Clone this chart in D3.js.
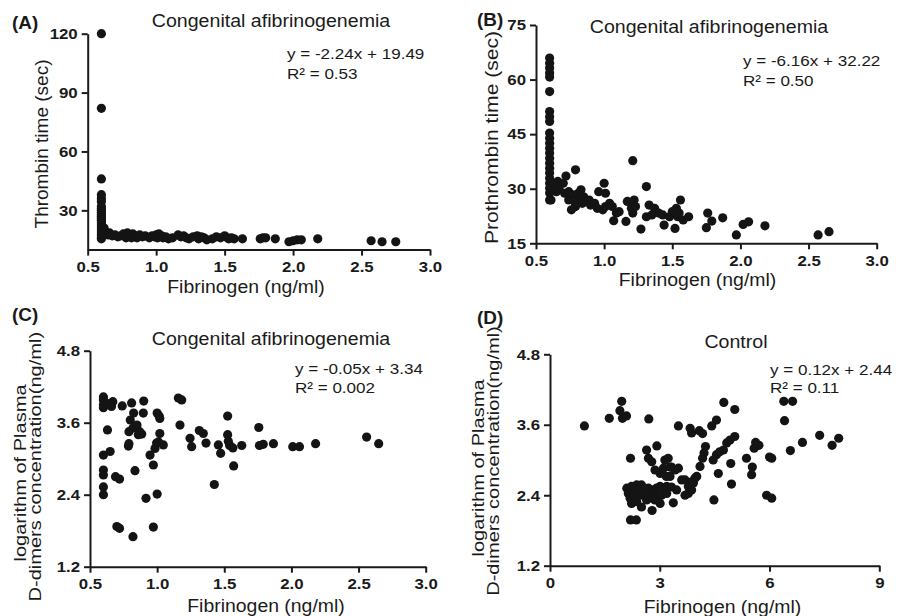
<!DOCTYPE html>
<html>
<head>
<meta charset="utf-8">
<script src="https://cdn.jsdelivr.net/npm/d3@7"></script>
<style>
  body { margin: 0; background: #fff; }
  svg { display: block; font-family: "Liberation Sans", Arial, sans-serif; }
  .axis .domain, .axis .tick line { stroke: #1a1a1a; stroke-width: 2px; }
  .axis .tick text { font-size: 15px; font-weight: bold; fill: #1a1a1a; font-family: "Liberation Sans", Arial, sans-serif; }
</style>
</head>
<body>
<div id="chart"></div>
<script>
// (A) thrombin time vs fibrinogen, patients
var ttPoints = [
  [0.6,120],[0.6,82],[0.6,46],[0.6,38],[0.6,36],[0.6,34.5],[0.6,32],[0.6,31],[0.6,30],[0.6,29],
  [0.6,28],[0.6,27],[0.6,26],[0.6,25],[0.6,24],[0.6,23],[0.6,22],[0.6,21],[0.6,20],[0.6,19],
  [0.6,18],[0.6,17],[0.6,16],[0.6,15.5],
  [0.62,21],[0.63,19],[0.64,18],[0.65,17.5],[0.66,18.5],[0.68,17],[0.7,17.5],[0.72,16.5],
  [0.74,17],[0.76,18],[0.77,17],[0.78,16],[0.79,18.5],[0.8,17.5],[0.82,16],[0.83,18],
  [0.85,17],[0.86,16],[0.88,17.5],[0.9,16.5],[0.92,17],[0.95,16],[0.97,17],[0.99,16.5],
  [1.0,17.5],[1.01,16],[1.02,18],[1.04,17],[1.05,16],[1.07,16.5],[1.09,15.5],[1.12,16],
  [1.16,17.5],[1.18,16.5],[1.2,17],[1.22,16],[1.24,15.5],[1.27,16.5],[1.3,17],[1.31,15.5],
  [1.33,16.5],[1.35,16],[1.37,15],[1.41,15.5],[1.44,16.5],[1.47,16],[1.5,17],[1.52,16],
  [1.53,15.5],[1.55,16],[1.57,15.5],[1.63,15.5],[1.76,15.5],[1.78,16],[1.8,16],[1.87,15.5],
  [1.97,14],[2.0,14.5],[2.03,15],[2.06,15],[2.18,15.5],[2.57,14.5],[2.65,14],[2.75,14]
];

// (B) prothrombin time vs fibrinogen, patients
var ptPoints = [
  [0.6,65.9],[0.6,64.5],[0.6,63.2],[0.6,61.8],[0.6,60.7],[0.6,56.7],[0.6,51.2],[0.6,49.8],
  [0.6,48.5],[0.6,45.3],[0.6,43.9],[0.6,42.5],[0.6,41.1],[0.6,39.8],[0.6,38.4],[0.6,37.0],
  [0.6,35.6],[0.6,34.3],[0.6,32.9],[0.6,31.5],[0.6,30.1],[0.6,28.8],[0.6,26.9],[0.61,26.9],
  [0.63,31.1],[0.66,32.0],[0.7,31.5],[0.72,33.5],[0.79,35.2],
  [0.62,29.7],[0.65,29.2],[0.67,29.9],[0.71,28.75],[0.74,29.2],[0.77,28.3],[0.81,28.75],
  [0.83,29.7],[0.82,27.4],[0.85,27.8],[0.87,26.5],[0.89,26.9],[0.9,25.5],[0.84,26.0],
  [0.79,25.1],[0.76,24.2],[0.79,26.0],[0.74,26.9],[0.93,26.0],[0.95,24.6],[0.99,24.2],
  [1.01,25.1],[1.04,26.0],[1.06,25.1],[1.0,31.5],[0.96,29.2],[1.01,28.75],
  [1.09,23.3],[1.07,21.2],[1.11,23.7],[1.16,21.0],[1.17,26.5],[1.21,23.3],[1.22,26.9],
  [1.2,24.6],[1.23,25.1],[1.21,37.7],[1.27,18.9],[1.31,30.6],[1.33,25.5],[1.35,22.8],
  [1.37,24.6],[1.31,22.3],[1.4,23.3],[1.43,22.8],[1.44,20.0],[1.48,22.3],[1.5,23.7],
  [1.53,24.6],[1.52,19.1],[1.54,22.3],[1.55,23.3],[1.56,26.9],[1.58,21.4],[1.62,22.3],
  [1.76,23.3],[1.75,19.3],[1.79,21.1],[1.87,22.0],[1.97,17.3],[2.02,20.2],[2.06,20.9],
  [2.18,19.8],[2.57,17.3],[2.65,18.2]
];

// (C) log plasma D-dimers vs fibrinogen, patients
var ddPatientPoints = [
  [0.6,4.03],[0.6,3.98],[0.6,3.9],[0.6,3.85],[0.6,3.06],[0.6,2.81],[0.6,2.73],[0.6,2.53],[0.6,2.4],
  [0.63,3.48],[0.65,3.12],[0.67,3.95],[0.66,3.87],[0.645,3.92],[0.74,3.88],[0.81,3.93],[0.9,3.96],
  [0.69,2.70],[0.72,2.66],[0.7,1.87],[0.72,1.84],[0.82,1.70],[0.835,2.80],
  [0.8,3.645],[0.79,3.45],[0.786,3.21],[0.79,3.25],[0.825,3.76],[0.85,3.56],[0.82,3.51],
  [0.87,3.45],[0.86,3.40],[0.885,3.41],[0.897,3.76],[0.947,3.06],[0.917,2.34],[0.972,2.895],
  [0.972,1.86],[1.0,3.76],[1.015,3.71],[1.02,3.67],[1.02,3.42],[0.996,3.26],[0.984,3.17],
  [1.01,3.28],[1.046,3.23],[1.0,2.41],[1.158,4.01],[1.183,3.98],[1.17,3.56],
  [1.245,3.34],[1.257,3.20],[1.314,3.47],[1.344,3.42],[1.364,3.26],[1.426,2.57],[1.456,3.23],
  [1.473,3.09],[1.525,3.71],[1.525,3.40],[1.53,3.29],[1.54,3.22],[1.564,3.18],[1.57,2.88],
  [1.63,3.22],[1.757,3.52],[1.762,3.22],[1.79,3.24],[1.866,3.25],[2.01,3.20],[2.06,3.20],
  [2.18,3.25],[2.56,3.36],[2.65,3.25]
];

// (D) log plasma D-dimers vs fibrinogen, controls
var ddControlPoints = [
  [0.94,3.58],[1.62,3.71],[1.96,4.0],[1.91,3.84],[1.98,3.71],[2.09,3.75],[2.70,3.70],[2.20,3.03],
  [2.64,3.17],[2.69,3.03],[2.92,3.24],[3.14,3.0],[3.23,3.03],[3.32,2.88],[3.18,2.72],[3.51,3.58],
  [3.83,3.54],[3.87,3.46],[4.08,3.5],[4.17,3.45],[4.42,3.58],[4.55,3.68],[4.75,3.98],[5.05,3.86],
  [4.94,2.94],[4.96,2.59],[4.48,2.32],[5.37,3.03],[5.53,2.88],[5.51,2.75],[5.58,3.2],[5.62,3.3],
  [5.71,3.25],[6.0,3.05],[6.06,3.03],[5.92,2.4],[6.06,2.35],[6.39,4.0],[6.63,4.0],[6.41,3.67],
  [6.57,3.16],[6.9,3.3],[7.37,3.42],[7.71,3.25],[7.89,3.37],[2.2,1.98],[2.36,1.98],[2.79,2.14],
  [4.25,3.23],[4.21,3.12],[4.17,3.03],[4.10,2.89],[4.01,2.72],[3.92,2.61],[3.87,2.49],[3.78,2.43],
  [3.69,2.40],[3.96,2.69],[4.46,3.0],[4.55,3.09],[4.64,3.14],[4.74,3.17],[4.60,2.77],[4.83,3.29],
  [4.92,3.34],[5.05,3.40],
  [2.10,2.52],[2.23,2.55],[2.37,2.575],[2.50,2.575],[2.14,2.43],[2.28,2.46],[2.41,2.49],[2.55,2.49],
  [2.69,2.52],[2.19,2.35],[2.32,2.38],[2.46,2.40],[2.60,2.38],[2.73,2.43],[2.82,2.49],[2.91,2.52],
  [3.01,2.55],[3.10,2.52],[3.19,2.55],[3.32,2.54],[2.23,2.26],[2.37,2.29],[2.50,2.20],[2.64,2.32],
  [2.78,2.35],[2.91,2.38],[3.05,2.40],[3.19,2.43],[3.37,2.27],[3.01,2.26],[2.87,2.32],[3.60,2.66],
  [3.69,2.66],[3.78,2.55],[3.87,2.63],[3.01,2.77],[2.87,2.83],[2.78,2.97],[3.10,2.86],[3.28,2.88],
  [3.42,2.83],[3.51,2.86],[3.46,2.49],[3.28,2.72]
];

// tick values
var fibTicksPatients = [0.5, 1.0, 1.5, 2.0, 2.5, 3.0];
var fibTicksControls = [0, 3, 6, 9];
var ttTicks = [30, 60, 90, 120];
var ptTicks = [15, 30, 45, 60, 75];
var ddTicks = [1.2, 2.4, 3.6, 4.8];

var width = 904, height = 616;
var tickStretch = 1.12;
var svg = d3.select("#chart").append("svg")
    .attr("width", width)
    .attr("height", height);

var panels = [
  {letter: "(A)", letterPos: [12, 29], points: ttPoints,
   xDomain: [0.5, 3], yDomain: [10, 120], xTicks: fibTicksPatients, yTicks: ttTicks,
   xFmt: d3.format(".1f"), yFmt: d3.format("d"),
   left: 87.7, right: 430, top: 33.7, bottom: 249.6,
   title: "Congenital afibrinogenemia", titlePos: [271, 26.5],
   eq: "y = -2.24x + 19.49", r2: "R\u00b2 = 0.53", eqPos: [287, 59], r2Y: 79,
   xLabelPos: [246, 293],
   yLabel: ["Thrombin time (sec)"], yLabelX: [48], yLabelY: [144], yLabelSize: 19, yLabelStretch: 1},
  {letter: "(B)", letterPos: [477, 26], points: ptPoints,
   xDomain: [0.5, 3], yDomain: [15, 75], xTicks: fibTicksPatients, yTicks: ptTicks,
   xFmt: d3.format(".1f"), yFmt: d3.format("d"),
   left: 536, right: 876.7, top: 25, bottom: 243.3,
   title: "Congenital afibrinogenemia", titlePos: [709, 33],
   eq: "y = -6.16x + 32.22", r2: "R\u00b2 = 0.50", eqPos: [743, 66], r2Y: 86,
   xLabelPos: [697.5, 286],
   yLabel: ["Prothrombin time (sec)"], yLabelX: [498], yLabelY: [137.5], yLabelSize: 19, yLabelStretch: 1.11},
  {letter: "(C)", letterPos: [12, 321], points: ddPatientPoints,
   xDomain: [0.5, 3], yDomain: [1.2, 4.8], xTicks: fibTicksPatients, yTicks: ddTicks,
   xFmt: d3.format(".1f"), yFmt: d3.format(".1f"),
   left: 90, right: 425.7, top: 350.7, bottom: 566.7,
   title: "Congenital afibrinogenemia", titlePos: [271, 345],
   eq: "y = -0.05x + 3.34", r2: "R\u00b2 = 0.002", eqPos: [295, 374], r2Y: 393,
   xLabelPos: [266, 612],
   yLabel: ["logarithm of Plasma", "D-dimers concentration(ng/ml)"],
   yLabelX: [25.5, 41], yLabelY: [473, 466.7], yLabelSize: 17, yLabelStretch: 1.18},
  {letter: "(D)", letterPos: [477, 324], points: ddControlPoints,
   xDomain: [0, 9], yDomain: [1.2, 4.8], xTicks: fibTicksControls, yTicks: ddTicks,
   xFmt: d3.format("d"), yFmt: d3.format(".1f"),
   left: 550, right: 879.3, top: 354.3, bottom: 565.7,
   title: "Control", titlePos: [736, 348],
   eq: "y = 0.12x + 2.44", r2: "R\u00b2 = 0.11", eqPos: [770, 375], r2Y: 393,
   xLabelPos: [722.5, 613],
   yLabel: ["logarithm of Plasma", "D-dimers concentration(ng/ml)"],
   yLabelX: [484, 499], yLabelY: [468, 461], yLabelSize: 17, yLabelStretch: 1.18}
];

// text with a horizontal stretch along its own direction
function addText(g, x, y, str, size, stretch, anchor, angle, weight) {
  return g.append("text")
    .attr("transform", "translate(" + x + "," + y + ") rotate(" + (angle || 0) + ") scale(" + stretch + ",1)")
    .attr("text-anchor", anchor || "start")
    .attr("font-size", size)
    .attr("font-weight", weight || "normal")
    .attr("fill", "#1a1a1a")
    .text(str);
}

function drawPanel(p) {
  var x = d3.scaleLinear().domain(p.xDomain).range([p.left, p.right]);
  var y = d3.scaleLinear().domain(p.yDomain).range([p.bottom, p.top]);
  var g = svg.append("g");

  var xAxis = g.append("g")
    .attr("class", "axis")
    .attr("transform", "translate(0," + p.bottom + ")")
    .call(d3.axisBottom(x).tickValues(p.xTicks).tickFormat(p.xFmt)
      .tickSize(6).tickSizeOuter(0).tickPadding(6));
  xAxis.selectAll(".tick text").attr("transform", "scale(" + tickStretch + ",1)");

  var yAxis = g.append("g")
    .attr("class", "axis")
    .attr("transform", "translate(" + p.left + ",0)")
    .call(d3.axisLeft(y).tickValues(p.yTicks).tickFormat(p.yFmt)
      .tickSize(6).tickSizeOuter(0).tickPadding(4));
  yAxis.selectAll(".tick text")
    .attr("x", -10 / tickStretch)
    .attr("transform", "scale(" + tickStretch + ",1)");

  g.append("g").selectAll("circle")
    .data(p.points)
    .enter()
    .append("circle")
    .attr("cx", function(d) { return x(d[0]); })
    .attr("cy", function(d) { return y(d[1]); })
    .attr("r", 4.6)
    .attr("fill", "#141414");

  addText(g, p.letterPos[0], p.letterPos[1], p.letter, 18, 1.05, "start", 0, "bold");
  addText(g, p.titlePos[0], p.titlePos[1], p.title, 17.5, 1.12, "middle");
  addText(g, p.eqPos[0], p.eqPos[1], p.eq, 15.5, 1.1, "start");
  addText(g, p.eqPos[0], p.r2Y, p.r2, 15.5, 1.1, "start");
  addText(g, p.xLabelPos[0], p.xLabelPos[1], "Fibrinogen (ng/ml)", 18.5, 1.05, "middle");

  p.yLabel.forEach(function(line, i) {
    addText(g, p.yLabelX[i], p.yLabelY[i], line, p.yLabelSize, p.yLabelStretch, "middle", -90);
  });
}

panels.forEach(drawPanel);
</script>
</body>
</html>
